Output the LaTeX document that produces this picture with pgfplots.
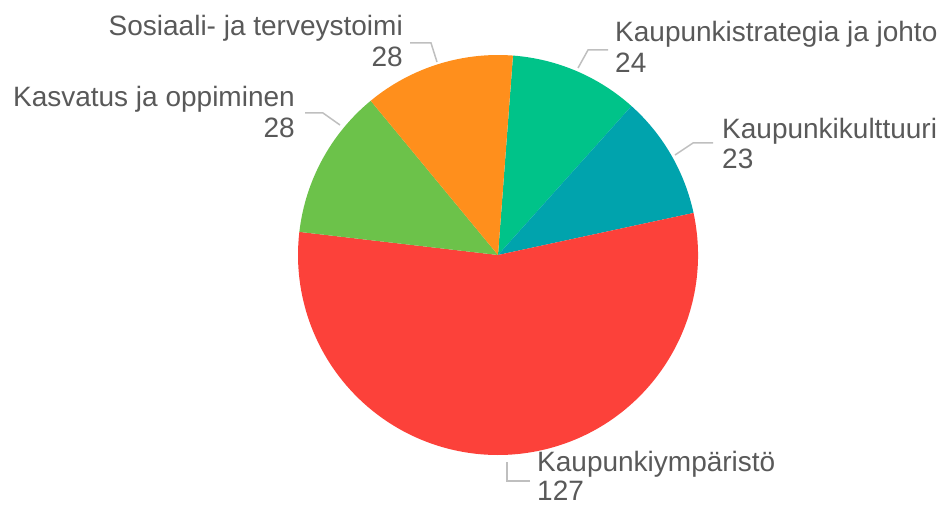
\documentclass[border=0pt]{standalone}
\usepackage{pgfplots}
\pgfplotsset{compat=1.18}
\usepackage{pgfplotstable}
\usepackage{fontspec}
\setmainfont{Liberation Sans}
\definecolor{cStrat}{HTML}{00C389}
\definecolor{cKult}{HTML}{00A3AD}
\definecolor{cYmp}{HTML}{FC413A}
\definecolor{cKasv}{HTML}{6CC24A}
\definecolor{cSos}{HTML}{FF8F1C}
\definecolor{txt}{HTML}{595959}
\definecolor{lead}{HTML}{BFBFBF}
\pgfplotstableread{
v
24
23
127
28
28
}\piedata
\pgfplotstablegetelem{0}{v}\of\piedata\pgfmathsetmacro\vA{\pgfplotsretval}
\pgfplotstablegetelem{1}{v}\of\piedata\pgfmathsetmacro\vB{\pgfplotsretval}
\pgfplotstablegetelem{2}{v}\of\piedata\pgfmathsetmacro\vC{\pgfplotsretval}
\pgfplotstablegetelem{3}{v}\of\piedata\pgfmathsetmacro\vD{\pgfplotsretval}
\pgfplotstablegetelem{4}{v}\of\piedata\pgfmathsetmacro\vE{\pgfplotsretval}
\pgfmathsetmacro\tot{\vA+\vB+\vC+\vD+\vE}
\pgfmathsetmacro\aA{85.7}
\pgfmathsetmacro\aB{\aA-(\vA/\tot)*360}
\pgfmathsetmacro\aC{\aB-(\vB/\tot)*360}
\pgfmathsetmacro\aD{\aC-(\vC/\tot)*360}
\pgfmathsetmacro\aE{\aD-(\vD/\tot)*360}
\pgfmathsetmacro\aF{\aE-(\vE/\tot)*360}
\begin{document}
\begin{tikzpicture}
\begin{axis}[width=944pt,height=507pt,scale only axis,hide axis,
  xmin=0,xmax=944,ymin=0,ymax=507,clip=false]
\addplot[draw=none] coordinates {(0,0) (944,507)};
\fill[cStrat] (axis cs:498,252) -- ++(\aA:200pt) arc[start angle=\aA, end angle=\aB, radius=200pt] -- cycle;
\fill[cKult] (axis cs:498,252) -- ++(\aB:200pt) arc[start angle=\aB, end angle=\aC, radius=200pt] -- cycle;
\fill[cYmp] (axis cs:498,252) -- ++(\aC:200pt) arc[start angle=\aC, end angle=\aD, radius=200pt] -- cycle;
\fill[cKasv] (axis cs:498,252) -- ++(\aD:200pt) arc[start angle=\aD, end angle=\aE, radius=200pt] -- cycle;
\fill[cSos] (axis cs:498,252) -- ++(\aE:200pt) arc[start angle=\aE, end angle=\aF, radius=200pt] -- cycle;
% leader lines
\draw[lead,line width=1.5pt] (axis cs:410,464) -- (axis cs:431,464) -- (axis cs:437,445);
\draw[lead,line width=1.5pt] (axis cs:305,394) -- (axis cs:323,394) -- (axis cs:340,382);
\draw[lead,line width=1.5pt] (axis cs:608,457) -- (axis cs:588,457) -- (axis cs:578,439);
\draw[lead,line width=1.5pt] (axis cs:713,364) -- (axis cs:693,364) -- (axis cs:675,352);
\draw[lead,line width=1.5pt] (axis cs:530,26) -- (axis cs:507,26) -- (axis cs:507,45);
% labels
\tikzset{lab/.style={text=txt,font=\fontsize{28}{32}\selectfont,inner sep=0pt}}
\node[lab,anchor=base west] at (axis cs:615,465) {Kaupunkistrategia ja johto};
\node[lab,anchor=base west] at (axis cs:615,434) {24};
\node[lab,anchor=base west] at (axis cs:722,368) {Kaupunkikulttuuri};
\node[lab,anchor=base west] at (axis cs:722,339) {23};
\node[lab,anchor=base west] at (axis cs:537,36) {Kaupunkiympäristö};
\node[lab,anchor=base west] at (axis cs:537,7) {127};
\node[lab,anchor=base east] at (axis cs:403,471) {Sosiaali- ja terveystoimi};
\node[lab,anchor=base east] at (axis cs:403,440) {28};
\node[lab,anchor=base east] at (axis cs:295,400) {Kasvatus ja oppiminen};
\node[lab,anchor=base east] at (axis cs:295,370) {28};
\end{axis}
\end{tikzpicture}
\end{document}
